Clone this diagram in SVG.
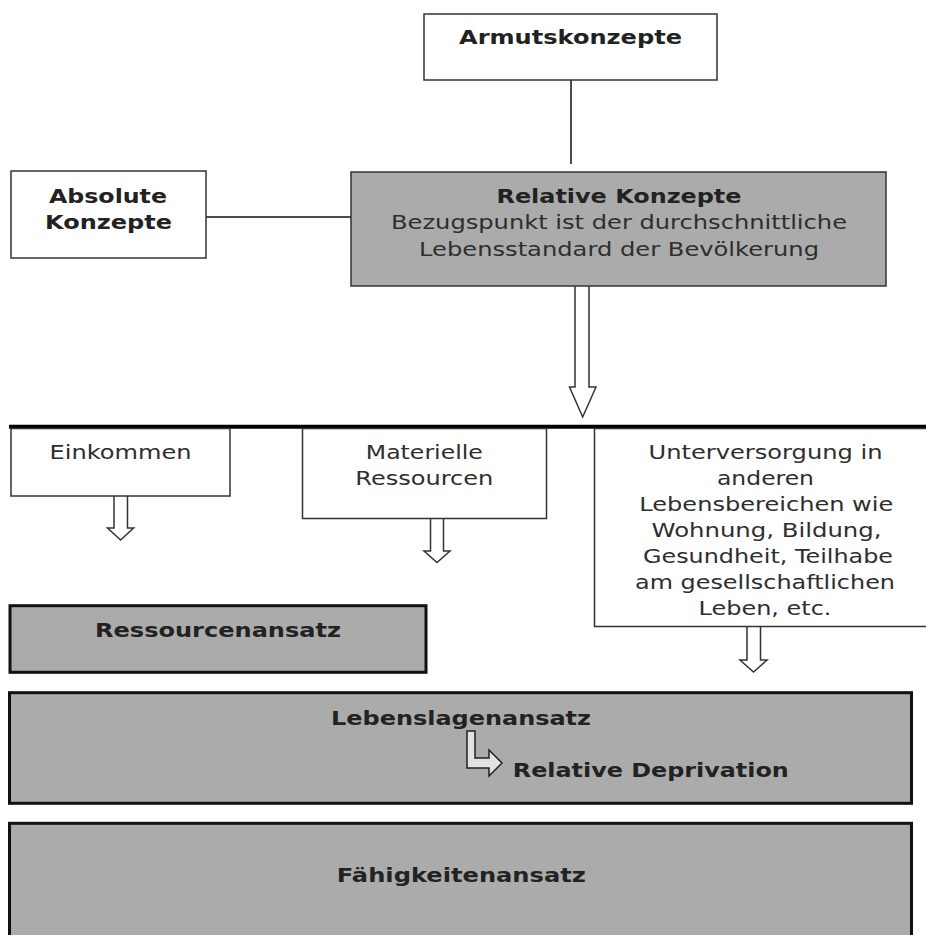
<svg xmlns="http://www.w3.org/2000/svg" width="926" height="935" viewBox="0 0 926 935">
<style>
.w{fill:#fff;stroke:#333;stroke-width:1.5}
.g{fill:#ababab;stroke:#333;stroke-width:1.5}
.gb{fill:#ababab;stroke:#111;stroke-width:3}
.t{font-family:"DejaVu Sans","Verdana","Liberation Sans",sans-serif;font-size:20px;fill:#2e2e2e;text-anchor:middle}
.b{font-weight:bold;fill:#222}
.ln{stroke:#111;stroke-width:1.5;fill:none}
.ha{fill:#fff;stroke:#333;stroke-width:1.5}
</style>
<rect x="0" y="0" width="926" height="935" fill="#fff"/>
<g id="connectors">
<line class="ln" x1="571" y1="80" x2="571" y2="164"/>
<line class="ln" x1="206" y1="217" x2="351" y2="217"/>
<path class="ha" d="M575,286 V387 H569.5 L582.7,417 L596,387 H589 V286"/>
<line x1="9" y1="426.7" x2="926" y2="426.7" stroke="#000" stroke-width="4"/>
<path class="ha" d="M114,496 V528 H107.5 L120.6,540 L133.6,528 H127.5 V496"/>
<path class="ha" d="M430.5,518.5 V551 H424 L437,562.5 L450,551 H443.5 V518.5"/>
<path class="ha" d="M747,626.5 V660 H740 L753.5,672 L767,660 H760.5 V626.5"/>
</g>
<g id="armutskonzepte">
<rect class="w" x="424" y="14" width="293" height="66"/>
<text class="t b" x="570.5" y="44" textLength="223" lengthAdjust="spacingAndGlyphs">Armutskonzepte</text>
</g>
<g id="absolute">
<rect class="w" x="11" y="171" width="195" height="87"/>
<text class="t b" x="108" y="203" textLength="118" lengthAdjust="spacingAndGlyphs">Absolute</text>
<text class="t b" x="108.5" y="229" textLength="127" lengthAdjust="spacingAndGlyphs">Konzepte</text>
</g>
<g id="relative">
<rect class="g" x="351" y="172" width="535" height="114"/>
<text class="t b" x="619" y="203" textLength="245" lengthAdjust="spacingAndGlyphs">Relative Konzepte</text>
<text class="t" x="619" y="229" textLength="456" lengthAdjust="spacingAndGlyphs">Bezugspunkt ist der durchschnittliche</text>
<text class="t" x="619" y="256" textLength="400" lengthAdjust="spacingAndGlyphs">Lebensstandard der Bevölkerung</text>
</g>
<g id="einkommen">
<rect class="w" x="11" y="428.5" width="219" height="67.5"/>
<text class="t" x="120.6" y="459" textLength="142" lengthAdjust="spacingAndGlyphs">Einkommen</text>
</g>
<g id="materielle">
<rect class="w" x="302.5" y="428.5" width="244" height="90"/>
<text class="t" x="424.3" y="459" textLength="117" lengthAdjust="spacingAndGlyphs">Materielle</text>
<text class="t" x="424.3" y="485" textLength="138" lengthAdjust="spacingAndGlyphs">Ressourcen</text>
</g>
<g id="unterversorgung">
<rect class="w" x="594.5" y="428.5" width="340" height="198"/>
<text class="t" x="765.5" y="459" textLength="234" lengthAdjust="spacingAndGlyphs">Unterversorgung in</text>
<text class="t" x="765.5" y="485" textLength="97" lengthAdjust="spacingAndGlyphs">anderen</text>
<text class="t" x="766.3" y="511" textLength="254" lengthAdjust="spacingAndGlyphs">Lebensbereichen wie</text>
<text class="t" x="766.5" y="537" textLength="230" lengthAdjust="spacingAndGlyphs">Wohnung, Bildung,</text>
<text class="t" x="768" y="563" textLength="250" lengthAdjust="spacingAndGlyphs">Gesundheit, Teilhabe</text>
<text class="t" x="765" y="589" textLength="260" lengthAdjust="spacingAndGlyphs">am gesellschaftlichen</text>
<text class="t" x="765" y="615" textLength="133" lengthAdjust="spacingAndGlyphs">Leben, etc.</text>
</g>
<g id="ressourcenansatz">
<rect class="gb" x="10" y="605.7" width="416" height="66.6"/>
<text class="t b" x="218" y="637" textLength="246" lengthAdjust="spacingAndGlyphs">Ressourcenansatz</text>
</g>
<g id="lebenslagenansatz">
<rect class="gb" x="9.5" y="692.7" width="902" height="110.6"/>
<text class="t b" x="461" y="725" textLength="260" lengthAdjust="spacingAndGlyphs">Lebenslagenansatz</text>
<path d="M467,731 H475 V758 H489 V750 L502,763 L489,776 V768 H467 Z" fill="#e2e2e2" stroke="#222" stroke-width="1.5"/>
<text class="t b" x="650.8" y="777" textLength="276" lengthAdjust="spacingAndGlyphs">Relative Deprivation</text>
</g>
<g id="faehigkeitenansatz">
<rect class="gb" x="9.5" y="823.3" width="902" height="130"/>
<text class="t b" x="461.3" y="882" textLength="249" lengthAdjust="spacingAndGlyphs">Fähigkeitenansatz</text>
</g>
</svg>
